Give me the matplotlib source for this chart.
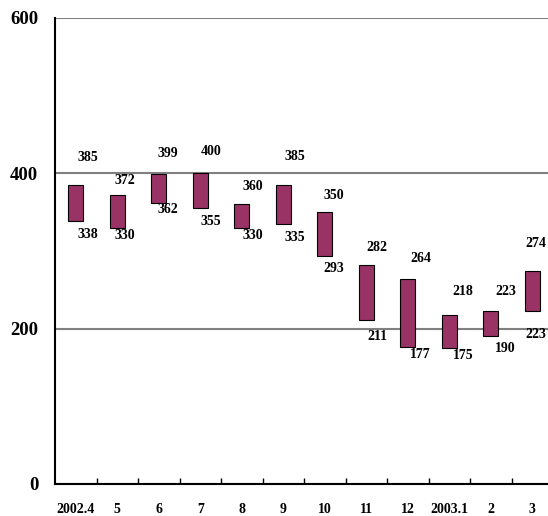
import matplotlib.pyplot as plt
import numpy as np

months = ["2002.4", "5", "6", "7", "8", "9", "10", "11", "12", "2003.1", "2", "3"]
high = [385, 372, 399, 400, 360, 385, 350, 282, 264, 218, 223, 274]
low = [338, 330, 362, 355, 330, 335, 293, 211, 177, 175, 190, 223]

# label offsets in pixels
hi_dy = [27, 15, 21, 22, 18, 28, 17, 17, 20, 23, 19, 28]
lo_dy = [13, 8, 7, 13, 8, 14, 12, 16, 8, 7, 12, 24]
lab_dx = [12, 8, 9, 11, 11, 12, 9, 11, 13, 14, 15, 4]

plt.rcParams['font.family'] = ['Liberation Serif', 'DejaVu Serif']
plt.rcParams['font.weight'] = 'bold'

fig = plt.figure(figsize=(5.48, 5.16), dpi=100)
ax = fig.add_axes([55 / 548, 32 / 516, 498 / 548, 466 / 516])

x = np.arange(len(months))
h = np.array(high)
l = np.array(low)
ax.bar(x, h - l, bottom=l, width=0.35, color='#993366',
       edgecolor='black', linewidth=0.8, zorder=3)

px = 72 / 100
for i in range(len(x)):
    ax.annotate(str(high[i]), (x[i], high[i]), xytext=(lab_dx[i] * px, hi_dy[i] * px),
                textcoords='offset points', ha='center', va='center',
                fontsize=10, fontweight='bold')
    ax.annotate(str(low[i]), (x[i], low[i]), xytext=(lab_dx[i] * px, -lo_dy[i] * px),
                textcoords='offset points', ha='center', va='center',
                fontsize=10, fontweight='bold')

ax.set_xlim(-0.5, len(months) - 0.5)
ax.set_ylim(0, 600)
ax.set_yticks([0, 200, 400, 600])
ax.set_yticklabels(['0', '200', '400', '600'], fontsize=13.5, fontweight='bold')
ax.tick_params(axis='y', length=0, pad=12)
ax.yaxis.grid(True, color='#808080', linewidth=1.5, zorder=0)

ax.set_xticks(x)
ax.set_xticklabels(months, fontsize=10, fontweight='bold')
ax.set_xticks(np.arange(len(months)) + 0.5, minor=True)
ax.tick_params(axis='x', which='major', length=0, pad=14)
ax.tick_params(axis='x', which='minor', direction='in', length=4, width=1)

for s in ['top', 'right']:
    ax.spines[s].set_visible(False)
ax.spines['left'].set_linewidth(1.5)
ax.spines['bottom'].set_linewidth(1.5)

fig.savefig('out.png', dpi=100)
